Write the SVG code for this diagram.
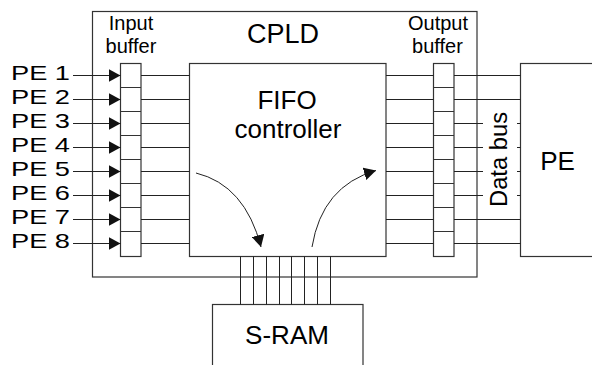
<svg xmlns="http://www.w3.org/2000/svg" width="592" height="365" viewBox="0 0 592 365">
<style>
.box{fill:#fff;stroke:#333;stroke-width:1.2}
.cell{fill:none;stroke:#333;stroke-width:1}
.ln{fill:none;stroke:#222;stroke-width:1}
.t{font-family:"Liberation Sans",Arial,sans-serif;fill:#000}
</style>
<defs>
<marker id="ah" viewBox="0 0 12 13" refX="12" refY="6.5" markerWidth="12" markerHeight="13" markerUnits="userSpaceOnUse" orient="auto">
<path d="M0,0 L12,6.5 L0,13 z" fill="#111"/>
</marker>
</defs>
<rect width="592" height="365" fill="#fff"/>
<g id="cpld">
<rect class="box" x="92.5" y="11.5" width="384.5" height="265.5"/>
<text class="t" x="283" y="43" font-size="27" text-anchor="middle">CPLD</text>
</g>
<g id="sram">
<rect class="box" x="212.5" y="304.5" width="150.5" height="70"/>
<text class="t" x="287" y="344" font-size="26" text-anchor="middle">S-RAM</text>
</g>
<g id="pe">
<rect class="box" x="520.5" y="63.5" width="90" height="193"/>
<text class="t" x="557.5" y="170" font-size="26" text-anchor="middle">PE</text>
</g>
<g id="fifo">
<rect class="box" x="189.5" y="63.5" width="196.5" height="193"/>
<text class="t" x="287" y="109" font-size="26" text-anchor="middle">FIFO</text>
<text class="t" x="288" y="138" font-size="26" text-anchor="middle">controller</text>
</g>
<g id="input-buffer">
<text class="t" x="131" y="30" font-size="20" text-anchor="middle">Input</text>
<text class="t" x="131" y="53" font-size="20" text-anchor="middle">buffer</text>
<rect class="box" x="120.5" y="63.5" width="20.5" height="193"/>
<path class="cell" d="M120.5,87.5H141M120.5,111.5H141M120.5,135.5H141M120.5,159.5H141M120.5,183.5H141M120.5,207.5H141M120.5,231.5H141"/>
</g>
<g id="output-buffer">
<text class="t" x="438" y="30" font-size="20" text-anchor="middle">Output</text>
<text class="t" x="437.5" y="53" font-size="20" text-anchor="middle">buffer</text>
<rect class="box" x="433.5" y="63.5" width="20.5" height="193"/>
<path class="cell" d="M433.5,87.5H454M433.5,111.5H454M433.5,135.5H454M433.5,159.5H454M433.5,183.5H454M433.5,207.5H454M433.5,231.5H454"/>
</g>
<g id="pe-labels">
<text class="t" x="11" y="80" font-size="21" textLength="59" lengthAdjust="spacingAndGlyphs">PE 1</text>
<text class="t" x="11" y="104" font-size="21" textLength="59" lengthAdjust="spacingAndGlyphs">PE 2</text>
<text class="t" x="11" y="128" font-size="21" textLength="59" lengthAdjust="spacingAndGlyphs">PE 3</text>
<text class="t" x="11" y="152" font-size="21" textLength="59" lengthAdjust="spacingAndGlyphs">PE 4</text>
<text class="t" x="11" y="176" font-size="21" textLength="59" lengthAdjust="spacingAndGlyphs">PE 5</text>
<text class="t" x="11" y="200" font-size="21" textLength="59" lengthAdjust="spacingAndGlyphs">PE 6</text>
<text class="t" x="11" y="224" font-size="21" textLength="59" lengthAdjust="spacingAndGlyphs">PE 7</text>
<text class="t" x="11" y="248" font-size="21" textLength="59" lengthAdjust="spacingAndGlyphs">PE 8</text>
</g>
<g id="connectors">
<g marker-end="url(#ah)">
<path class="ln" d="M73,75.5H120.5"/>
<path class="ln" d="M73,99.5H120.5"/>
<path class="ln" d="M73,123.5H120.5"/>
<path class="ln" d="M73,147.5H120.5"/>
<path class="ln" d="M73,171.5H120.5"/>
<path class="ln" d="M73,195.5H120.5"/>
<path class="ln" d="M73,219.5H120.5"/>
<path class="ln" d="M73,243.5H120.5"/>
</g>
<path class="ln" d="M141,75.5H189.5M141,99.5H189.5M141,123.5H189.5M141,147.5H189.5M141,171.5H189.5M141,195.5H189.5M141,219.5H189.5M141,243.5H189.5"/>
<path class="ln" d="M386,75.5H433.5M386,99.5H433.5M386,123.5H433.5M386,147.5H433.5M386,171.5H433.5M386,195.5H433.5M386,219.5H433.5M386,243.5H433.5"/>
<path class="ln" d="M454,75.5H520.5M454,99.5H520.5M454,219.5H520.5M454,243.5H520.5"/>
<path class="ln" d="M454,123.5H483M517,123.5H520.5M454,147.5H483M517,147.5H520.5M454,171.5H483M517,171.5H520.5M454,195.5H483M517,195.5H520.5"/>
<path class="ln" d="M240.5,256.5V304.5M253.5,256.5V304.5M266.5,256.5V304.5M279.5,256.5V304.5M291.5,256.5V304.5M304.5,256.5V304.5M317.5,256.5V304.5M330.5,256.5V304.5"/>
<path class="ln" d="M196,173 Q245,185 261,247" marker-end="url(#ah)"/>
<path class="ln" d="M312,247 Q322,186 376,170.5" marker-end="url(#ah)"/>
</g>
<g id="data-bus-label">
<text class="t" transform="translate(507,207) rotate(-90)" font-size="23" textLength="95" lengthAdjust="spacingAndGlyphs">Data bus</text>
</g>
</svg>
